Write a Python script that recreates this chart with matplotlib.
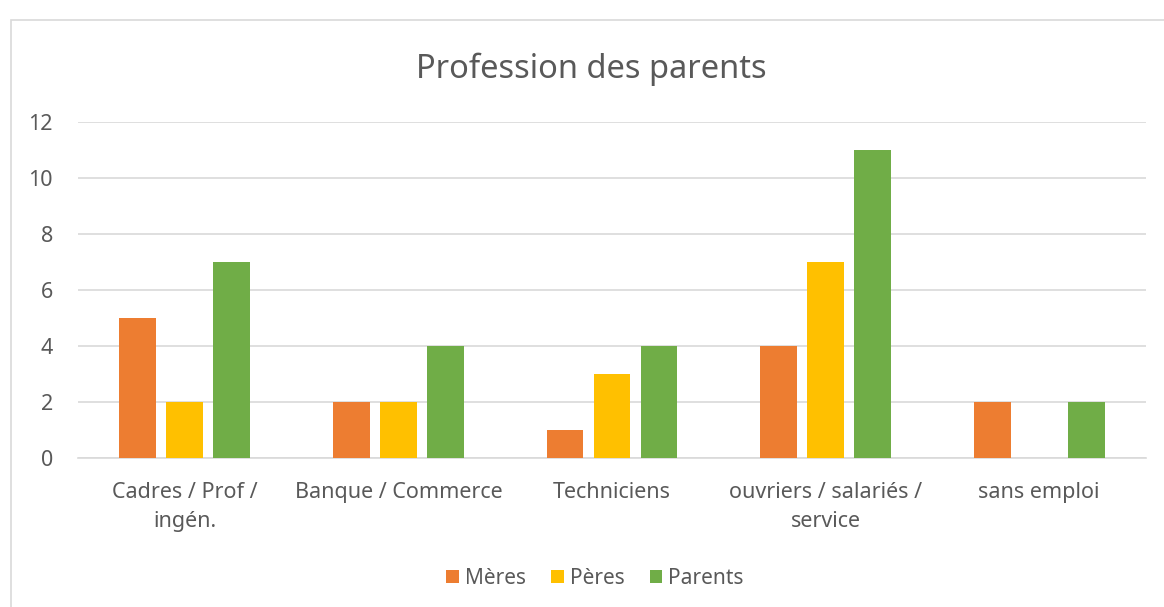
import matplotlib
matplotlib.use("Agg")
import matplotlib.pyplot as plt
import numpy as np
from matplotlib.patches import Rectangle

categories = ["Cadres / Prof /\ningén.", "Banque / Commerce", "Techniciens",
              "ouvriers / salariés /\nservice", "sans emploi"]
series_names = ["Mères", "Pères", "Parents"]
meres = [5, 2, 1, 4, 2]
peres = [2, 2, 3, 7, 0]
parents = [7, 4, 4, 11, 2]
yticks = [0, 2, 4, 6, 8, 10, 12]
colors = ["#ED7D31", "#FFC000", "#70AD47"]

plt.rcParams['font.family'] = ['Noto Sans', 'DejaVu Sans']
text_color = "#595959"

fig = plt.figure(figsize=(11.64, 6.07), dpi=100)
fig.patches.append(Rectangle((11/1164, -0.1), 1.2, 1 - 20/607 + 0.1,
                             transform=fig.transFigure, fill=False,
                             edgecolor="#D9D9D9", linewidth=1.2))
ax = fig.add_axes([78/1164, 1 - 458/607, (1146 - 78)/1164, (458 - 122)/607])

x = np.arange(len(categories))
bw = 0.173
step = 0.22
for i, (vals, name, c) in enumerate(zip([meres, peres, parents], series_names, colors)):
    ax.bar(x + (i - 1) * step, vals, width=bw, color=c, label=name, zorder=3)

ax.set_xlim(-0.5, len(categories) - 0.5)
ax.set_ylim(0, 12)
ax.set_yticks(yticks)
ax.set_yticklabels([str(t) for t in yticks])
ax.set_xticks(x)
ax.set_xticklabels(categories, linespacing=1.5)
ax.grid(axis='y', color="#D9D9D9", linewidth=1.2, zorder=0)
for s in ["top", "right", "left"]:
    ax.spines[s].set_visible(False)
ax.spines["bottom"].set_color("#D9D9D9")
ax.spines["bottom"].set_linewidth(1.2)
ax.tick_params(axis='both', length=0, labelsize=15.5, colors=text_color)
ax.tick_params(axis='y', pad=18)
ax.tick_params(axis='x', pad=17)

fig.text(591/1164, 1 - 69/607, "Profession des parents", ha='center', va='center',
         fontsize=23.5, color=text_color)

leg = fig.legend(loc='center', bbox_to_anchor=(595/1164, 1 - 578/607), ncol=3,
                 frameon=False, fontsize=15, handlelength=0.6, handleheight=0.6,
                 handletextpad=0.3, columnspacing=1.2)
for t in leg.get_texts():
    t.set_color(text_color)

fig.savefig("out.png", dpi=100)
